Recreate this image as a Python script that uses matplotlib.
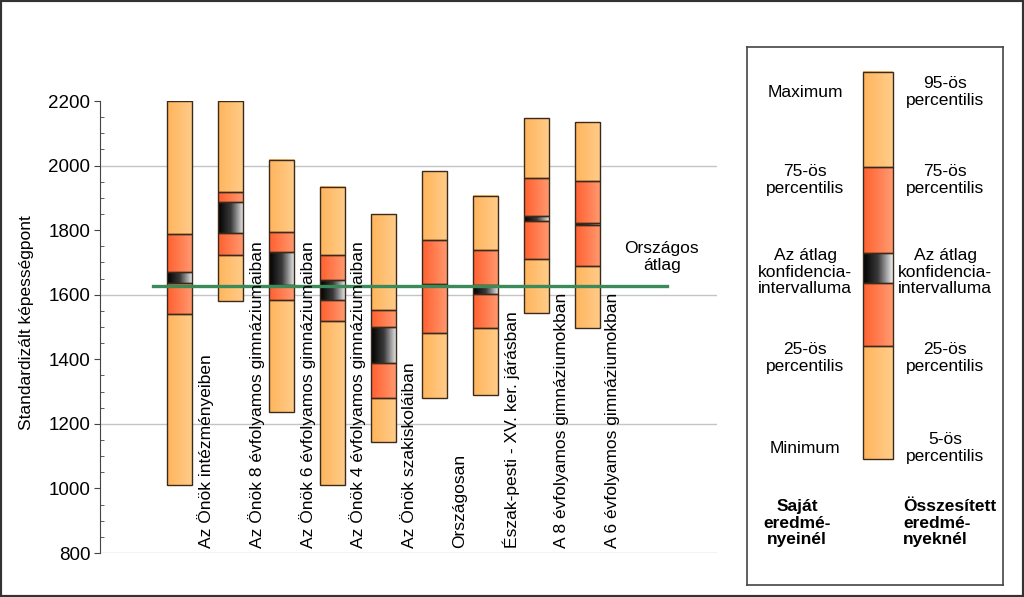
import matplotlib
matplotlib.use("Agg")
import matplotlib.pyplot as plt
import numpy as np
from matplotlib.colors import LinearSegmentedColormap
from matplotlib.patches import Rectangle

plt.rcParams['font.family'] = ['Liberation Sans', 'DejaVu Sans']
FS = 12.5

# Data
categories = ["Az Önök intézményeiben",
              "Az Önök 8 évfolyamos gimnáziumaiban",
              "Az Önök 6 évfolyamos gimnáziumaiban",
              "Az Önök 4 évfolyamos gimnáziumaiban",
              "Az Önök szakiskoláiban",
              "Országosan",
              "Észak-pesti - XV. ker. járásban",
              "A 8 évfolyamos gimnáziumokban",
              "A 6 évfolyamos gimnáziumokban"]
maximum = [2200, 2200, 2017, 1934, 1850, 1984, 1907, 2146, 2134]
p75 = [1787, 1919, 1793, 1722, 1553, 1771, 1738, 1963, 1952]
ci_high = [1670, 1888, 1731, 1645, 1501, 1632, 1630, 1844, 1823]
ci_low = [1635, 1792, 1630, 1584, 1389, 1626, 1602, 1829, 1815]
p25 = [1539, 1723, 1583, 1519, 1279, 1480, 1496, 1710, 1688]
minimum = [1011, 1580, 1237, 1010, 1143, 1279, 1289, 1542, 1498]
national_avg = 1628

# colour ramps (left -> right)
orange = LinearSegmentedColormap.from_list("o", ["#FFB45C", "#FFCD8A"])
red = LinearSegmentedColormap.from_list("r", ["#FF6030", "#FF9A70"])
black = LinearSegmentedColormap.from_list("k", ["#000000", "#3a3a3a", "#EDEDED"])
edge = "#3b2a1a"
ramp = np.linspace(0, 1, 64).reshape(1, -1)


def grad_rect(ax, x0, x1, y0, y1, cmap):
    ax.imshow(ramp, extent=(x0, x1, y0, y1), aspect='auto', cmap=cmap,
              interpolation='bilinear', zorder=2)
    ax.add_patch(Rectangle((x0, y0), x1 - x0, y1 - y0, fill=False,
                           edgecolor=edge, lw=1, zorder=3))


fig = plt.figure(figsize=(10.24, 5.97), dpi=100)
ax = fig.add_axes([100 / 1024, 1 - 553 / 597, 617 / 1024, 452 / 597])

w = 0.25
for i in range(len(categories)):
    segs = [(minimum[i], p25[i], orange), (p25[i], ci_low[i], red),
            (ci_low[i], ci_high[i], black), (ci_high[i], p75[i], red),
            (p75[i], maximum[i], orange)]
    for lo, hi, cm in segs:
        grad_rect(ax, i - w, i + w, lo, hi, cm)
    ax.text(i + 0.5, 815, categories[i], rotation=90, ha='center',
            va='bottom', fontsize=FS, zorder=5)

for g in range(800, 2001, 400):
    ax.axhline(g, color="#c4c4c4", lw=1, zorder=1)

ax.plot([-0.52, 9.56], [national_avg, national_avg], color="#3a8a5a",
        lw=2.4, zorder=4)
ax.text(9.46, 1717, "Országos\nátlag", ha='center', va='center', fontsize=FS)

ax.set_xlim(-1.56, 10.54)
ax.set_ylim(800, 2200)
ax.set_xticks([])
ax.set_yticks(range(800, 2201, 200))
ax.set_yticks(range(800, 2201, 50), minor=True)
ax.tick_params(axis='y', which='major', length=4, labelsize=13.5, color="#444",
               pad=3)
ax.tick_params(axis='y', which='minor', length=3, direction='in', color="#444")
for s in ['top', 'right', 'bottom']:
    ax.spines[s].set_visible(False)
ax.spines['left'].set_color("#444")
fig.text(27 / 1024, 1 - 323 / 597, "Standardizált képességpont", rotation=90,
         ha='center', va='center', fontsize=FS)

# legend panel (pixel coordinates)
lax = fig.add_axes([747 / 1024, 1 - 585 / 597, 256 / 1024, 538 / 597])
lax.set_xticks([])
lax.set_yticks([])
for s in lax.spines.values():
    s.set_color("#444")
    s.set_linewidth(1.2)
legend_levels = [459.3, 345.7, 283.3, 253.3, 167.3, 71.7]
legend_maps = [orange, red, black, red, orange]
for k, cm in enumerate(legend_maps):
    grad_rect(lax, 863, 893, legend_levels[k], legend_levels[k + 1], cm)
lax.set_xlim(747, 1003)
lax.set_ylim(585, 47)

left_labels = ["Maximum", "75-ös\npercentilis", "Az átlag\nkonfidencia-\nintervalluma",
               "25-ös\npercentilis", "Minimum"]
right_labels = ["95-ös\npercentilis", "75-ös\npercentilis",
                "Az átlag\nkonfidencia-\nintervalluma", "25-ös\npercentilis",
                "5-ös\npercentilis"]
label_y = [92, 180, 272, 358, 448]
for t, y in zip(left_labels, label_y):
    lax.text(805, y, t, ha='center', va='center', fontsize=FS, linespacing=1.15)
for t, y in zip(right_labels, label_y):
    lax.text(945, y, t, ha='center', va='center', fontsize=FS, linespacing=1.15)
lax.text(797, 523, "Saját\neredmé-\nnyeinél", ha='center', va='center',
         fontsize=FS, fontweight='bold', linespacing=1.15)
lax.text(903, 523, "Összesített\neredmé-\nnyeknél", ha='left', va='center',
         fontsize=FS, fontweight='bold', linespacing=1.15)

fig.add_artist(Rectangle((0, 0), 1, 1, transform=fig.transFigure, fill=False,
                         edgecolor="#333333", lw=3))

fig.savefig("out.png", dpi=100)
